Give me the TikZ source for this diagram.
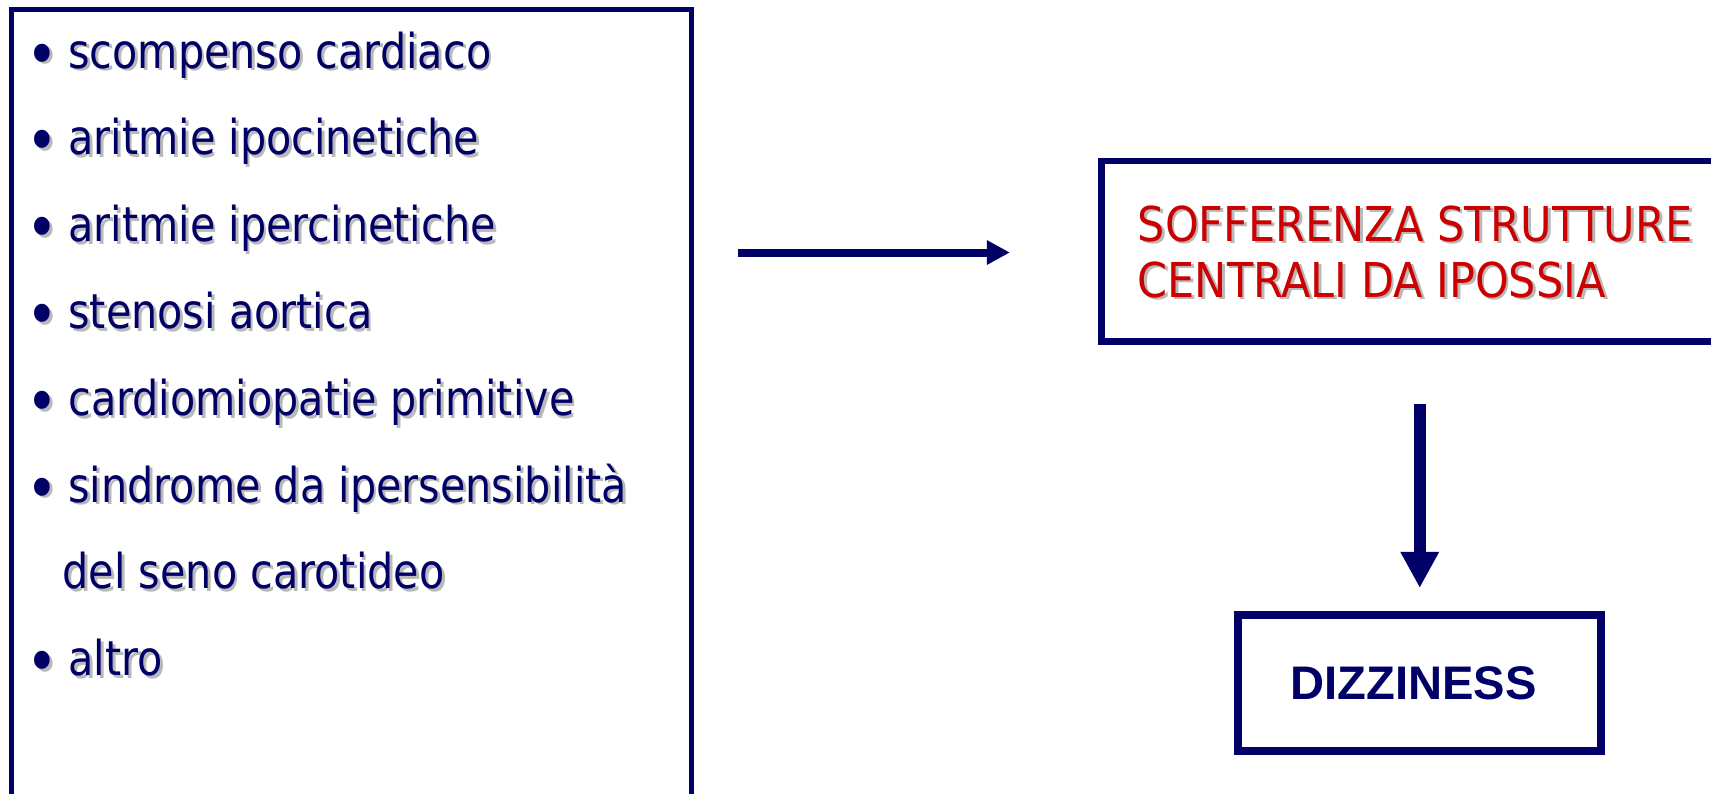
\documentclass[tikz,border=0pt]{standalone}
\usepackage{fontspec}
\setmainfont[FakeStretch=0.86]{DejaVu Sans}
\newfontfamily\capsFont[FakeStretch=0.895]{DejaVu Sans}
\newfontfamily\dizzFont{Liberation Sans}
\usetikzlibrary{arrows.meta, positioning}

\definecolor{slideNavy}{RGB}{0,0,102}
\definecolor{slideRed}{RGB}{204,0,0}
\definecolor{slideShadow}{RGB}{185,185,185}

% testo con ombra grigia
\newcommand{\shadowed}[1]{\rlap{\kern0.8pt\raisebox{-0.8pt}{\color{slideShadow}#1}}#1}
% pallino dell'elenco
\newcommand{\bul}{\raisebox{-0.08cm}{\scalebox{1.3}{\textbullet}}\hspace{0.1cm}}

\tikzset{
    listText/.style={anchor=base west, inner sep=0pt, text=slideNavy, font=\fontsize{13.66pt}{16pt}\selectfont},
    causeBox/.style={draw=slideNavy, line width=0.05cm, outer sep=0pt, inner sep=0pt},
    effectBox/.style={draw=slideNavy, line width=0.066cm, outer sep=0pt, inner sep=0pt},
    effectText/.style={anchor=base west, inner sep=0pt, text=slideRed, font=\capsFont\fontsize{13.66pt}{16pt}\selectfont},
    outcomeBox/.style={draw=slideNavy, line width=0.08cm, outer sep=0pt, text=slideNavy, font=\dizzFont\bfseries\fontsize{13.4pt}{16pt}\selectfont},
    flowArrow/.style={draw=slideNavy, -{Triangle[length=0.23cm, width=0.23cm]}, line width=0.08cm},
    downArrow/.style={draw=slideNavy, -{Triangle[length=0.36cm, width=0.36cm]}, line width=0.115cm},
}

\begin{document}
\begin{tikzpicture}[x=0.01cm, y=-0.01cm]
    \useasboundingbox (0,0) rectangle (1711,793);
    \clip (0,0) rectangle (1711,793);

    % riquadro delle cause
    \node[causeBox, anchor=north west, minimum width=6.795cm, minimum height=8.6cm] (causes) at (11.5,9.5) {};

    \node[listText] (c1) at (26,68) {\shadowed{\bul scompenso cardiaco}};
    \node[listText] (c2) at (26,154.8) {\shadowed{\bul aritmie ipocinetiche}};
    \node[listText] (c3) at (26,241.6) {\shadowed{\bul aritmie ipercinetiche}};
    \node[listText] (c4) at (26,328.4) {\shadowed{\bul stenosi aortica}};
    \node[listText] (c5) at (26,415.2) {\shadowed{\bul cardiomiopatie primitive}};
    \node[listText] (c6) at (26,502) {\shadowed{\bul sindrome da ipersensibilità}};
    \node[listText] (c6b) at (62,588.8) {\shadowed{del seno carotideo}};
    \node[listText] (c7) at (26,675.6) {\shadowed{\bul altro}};

    % effetto
    \node[effectBox, anchor=north west, minimum width=6.3cm, minimum height=1.805cm] (soff) at (1101.5,161) {};
    \node[effectText] (s1) at (1137,241) {\shadowed{SOFFERENZA STRUTTURE}};
    \node[effectText] (s2) at (1137,297) {\shadowed{CENTRALI DA IPOSSIA}};

    % conseguenza
    \node[outcomeBox, minimum width=3.625cm, minimum height=1.355cm] (dizzy) at (1419.75,683.25) {DIZZINESS\kern0.12cm};

    \draw[flowArrow, shorten <=0.47cm, shorten >=0.915cm] ([yshift=-0.012cm]causes.east |- soff.west) -- ([yshift=-0.012cm]soff.west);
    \draw[downArrow, shorten <=0.625cm, shorten >=0.275cm] (soff.south -| dizzy.north) -- (dizzy.north);

\end{tikzpicture}
\end{document}
